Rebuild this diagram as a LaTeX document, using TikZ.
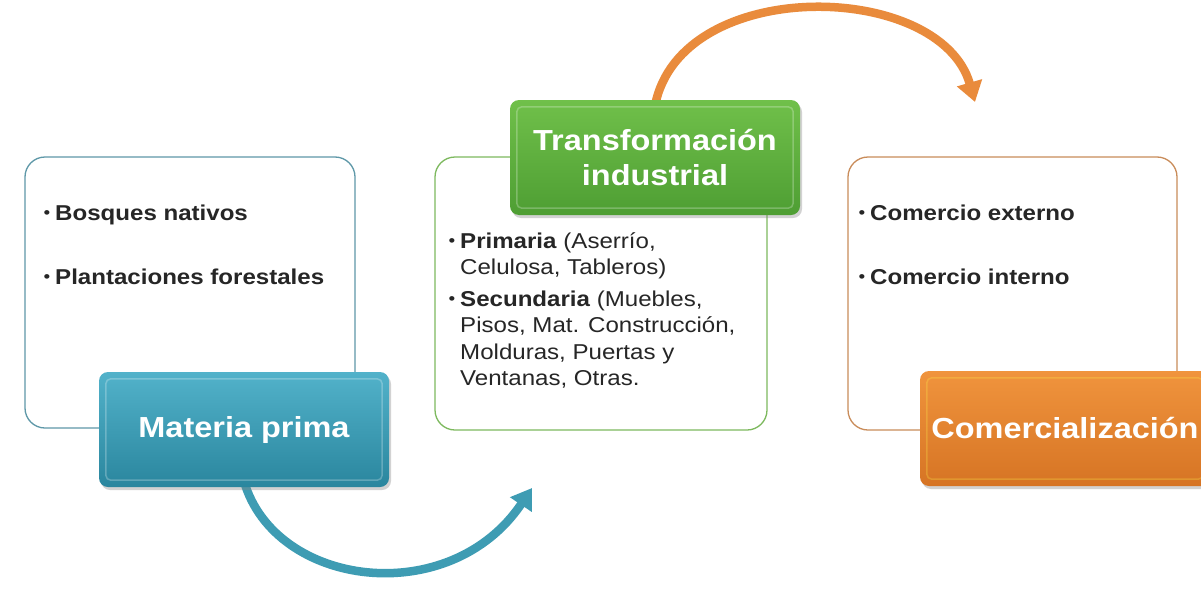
\documentclass[tikz,border=0pt]{standalone}
\usepackage{fontspec}
\setmainfont{Liberation Sans}[FakeStretch=1.12]
\usetikzlibrary{positioning,shadows,arrows.meta,backgrounds}

\definecolor{tealline}{HTML}{5E98A8}
\definecolor{tealtop}{HTML}{52B2CA}
\definecolor{tealbot}{HTML}{2A869E}
\definecolor{tealarrow}{HTML}{3E9CB3}
\definecolor{greenline}{HTML}{7DB95E}
\definecolor{greentop}{HTML}{70C04A}
\definecolor{greenbot}{HTML}{4E9E33}
\definecolor{orangeline}{HTML}{C98C5A}
\definecolor{orangetop}{HTML}{F0943D}
\definecolor{orangebot}{HTML}{D67424}
\definecolor{orangearrow}{HTML}{E98B3C}

\newcommand{\bul}{\llap{\raisebox{2pt}{\fontsize{17}{17}\selectfont\mdseries •}\hspace{5pt}}}

\begin{document}
\begin{tikzpicture}[x=1pt,y=-1pt,
    outline box/.style={draw, rounded corners=20pt, line width=1.3pt, fill=white},
    title box/.style={rounded corners=9pt, minimum width=290pt, minimum height=115pt,
      text=white, align=center, font=\fontsize{29}{35}\selectfont\bfseries,
      drop shadow={shadow xshift=2pt, shadow yshift=-3pt, opacity=.35}},
    bevel/.style={draw=white, opacity=.25, line width=1.5pt, rounded corners=5pt},
    item text/.style={anchor=north west, align=left, inner sep=0pt, text=black!85,
      font=\fontsize{21.5}{26.5}\selectfont},
    flow arrow/.style={line width=8.5pt, -{Triangle[width=25pt,length=20pt]}}]

  \useasboundingbox (0,0) rectangle (1201,589);

  %boxes%
  \node[outline box, draw=tealline, minimum width=330pt, minimum height=271pt] (matbox) at (190,292.5) {};
  \node[outline box, draw=greenline, minimum width=332pt, minimum height=273pt] (transbox) at (601,293.5) {};
  \node[outline box, draw=orangeline, minimum width=329pt, minimum height=273pt] (combox) at (1012.5,293.5) {};

  %titles%
  \node[title box, top color=tealtop, bottom color=tealbot] (matprima) at (244,429.5) {Materia prima};
  \node[title box, top color=greentop, bottom color=greenbot] (transf) at (655,157.5) {Transformación\\industrial};
  \node[title box, top color=orangetop, bottom color=orangebot] (comerc) at (1065,428.5) {Comercialización};

  \draw[bevel] ([shift={(7,7)}]matprima.north west) rectangle ([shift={(-7,-7)}]matprima.south east);
  \draw[bevel] ([shift={(7,7)}]transf.north west) rectangle ([shift={(-7,-7)}]transf.south east);
  \draw[bevel, draw=yellow!70] ([shift={(7,7)}]comerc.north west) rectangle ([shift={(-7,-7)}]comerc.south east);

  %items%
  \node[item text, font=\fontsize{21.5}{26.5}\selectfont\bfseries] (bosques) at (55,201.5) {\strut\bul Bosques nativos};
  \node[item text, font=\fontsize{21.5}{26.5}\selectfont\bfseries] (plantac) at (55,265.5) {\strut\bul Plantaciones forestales};

  \node[item text] (primaria) at (460,229.5) {\strut\bul\textbf{Primaria} (Aserrío,\\Celulosa, Tableros)};
  \node[item text] (secund) at (460,287.5) {\strut\bul\textbf{Secundaria} (Muebles,\\Pisos, Mat. Construcción,\\Molduras, Puertas y\\Ventanas, Otras.};

  \node[item text, font=\fontsize{21.5}{26.5}\selectfont\bfseries] (externo) at (870,201.5) {\strut\bul Comercio externo};
  \node[item text, font=\fontsize{21.5}{26.5}\selectfont\bfseries] (interno) at (870,265.5) {\strut\bul Comercio interno};

  %arrows%
  \coordinate (tealtip) at (532,488);
  \coordinate (orangetip) at (975,102);
  \begin{scope}[on background layer]
    \fill[white] (0,0) rectangle (1201,589);
    \draw[flow arrow, tealarrow] ([yshift=6pt]matprima.south) .. controls (275,588) and (450,610) .. (tealtip);
    \draw[flow arrow, orangearrow] ([yshift=-6pt]transf.north) .. controls (680,-25) and (940,-20) .. (orangetip);
  \end{scope}
\end{tikzpicture}
\end{document}
